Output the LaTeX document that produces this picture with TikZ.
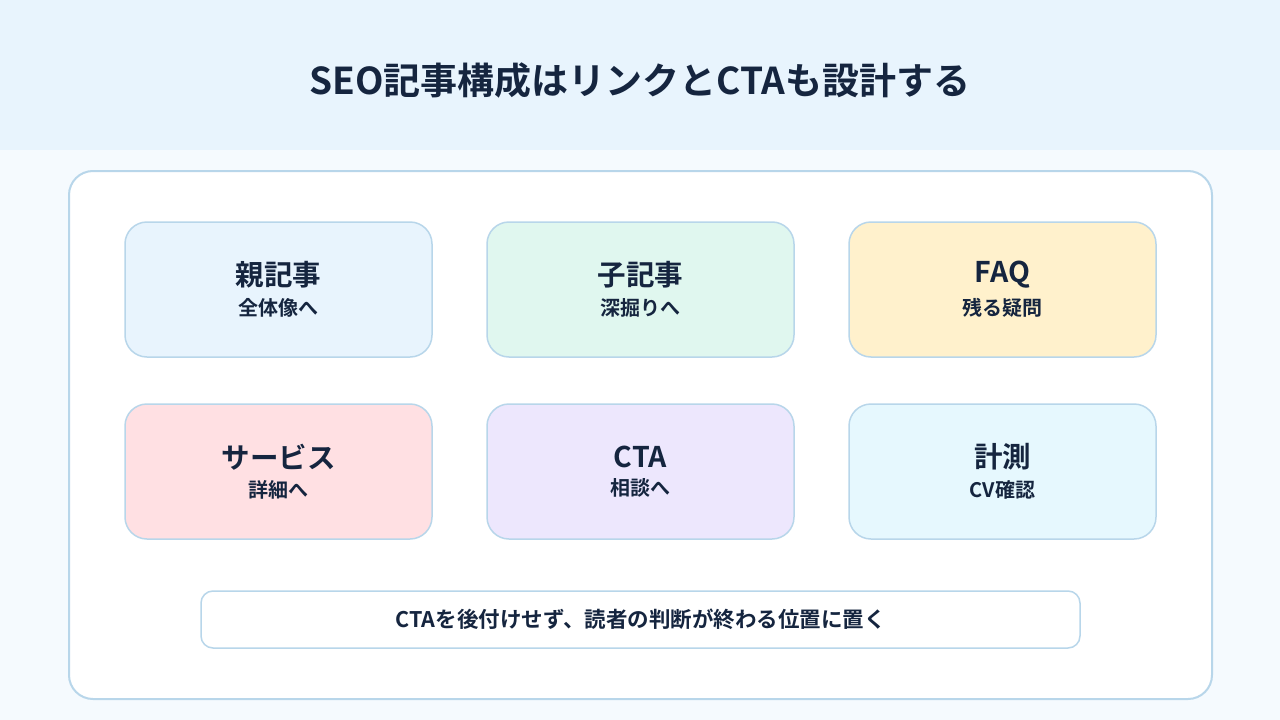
\documentclass[tikz,border=0pt]{standalone}
\usepackage{fontspec}
\setmainfont{Noto Sans CJK JP}[BoldFont={* Bold}]
\usetikzlibrary{positioning}
\definecolor{ink}{HTML}{15253F}
\definecolor{band}{HTML}{E8F4FD}
\definecolor{paper}{HTML}{F5FAFE}
\definecolor{edge}{HTML}{B8D6EA}
\tikzset{
    card/.style = {rectangle, rounded corners=22pt, line width=1.5pt, draw=edge, align=center, minimum width=307pt, minimum height=135pt, text=ink, font=\bfseries},
    cardb/.style = {card, fill={rgb,255:red,232;green,244;blue,253}},
    cardg/.style = {card, fill={rgb,255:red,224;green,247;blue,239}},
    cardy/.style = {card, fill={rgb,255:red,255;green,241;blue,204}},
    cardr/.style = {card, fill={rgb,255:red,255;green,224;blue,227}},
    cardv/.style = {card, fill={rgb,255:red,237;green,231;blue,253}},
    cardc/.style = {card, fill={rgb,255:red,230;green,248;blue,254}},
    notebox/.style = {rectangle, rounded corners=12pt, line width=1.5pt, draw=edge, fill=white, minimum width=879pt, minimum height=57pt, text=ink, font=\bfseries\fontsize{21.5}{24}\selectfont}
}
\newcommand{\cardtext}[2]{{\fontsize{28.5}{32}\selectfont #1}\\[9pt]{\fontsize{20}{22}\selectfont #2}}
\begin{document}
\begin{tikzpicture}[x=1pt, y=-1pt]
  % background
  \fill[paper] (0,0) rectangle (1280,720);
  \fill[band] (0,0) rectangle (1280,150);
  \useasboundingbox (0,0) rectangle (1280,720);
  \node[text=ink, font=\bfseries\fontsize{37}{42}\selectfont] (title) at (640,80) {SEO記事構成はリンクとCTAも設計する};
  % panel
  \draw[line width=2pt, draw=edge, fill=white, rounded corners=24pt] (69,171) rectangle (1212,699);
  % cards
  \node[cardb] (oya) at (278.5,289.5) {\cardtext{親記事}{全体像へ}};
  \node[cardg] (ko) at (640.5,289.5) {\cardtext{子記事}{深掘りへ}};
  \node[cardy] (faq) at (1002.5,289.5) {\cardtext{FAQ}{残る疑問}};
  \node[cardr] (service) at (278.5,471.5) {\cardtext{サービス}{詳細へ}};
  \node[cardv] (cta) at (640.5,471.5) {\cardtext{CTA}{相談へ}};
  \node[cardc] (measure) at (1002.5,471.5) {\cardtext{計測}{CV確認}};
  \node[notebox] (note) at (640.5,619.5) {CTAを後付けせず、読者の判断が終わる位置に置く};
\end{tikzpicture}
\end{document}
